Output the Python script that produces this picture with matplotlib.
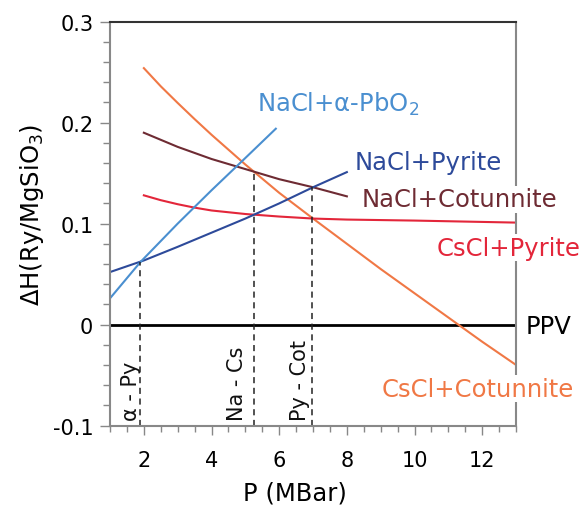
import matplotlib
matplotlib.use("Agg")
import matplotlib.pyplot as plt
from matplotlib.ticker import MultipleLocator

# enthalpy relative to PPV
p_cscl_cot = [2, 2.5, 3, 3.5, 4, 5, 6, 7, 8, 9, 10, 11, 12, 13]
h_cscl_cot = [0.254, 0.236, 0.2195, 0.2035, 0.188, 0.1585, 0.1305, 0.105, 0.080, 0.055, 0.031, 0.007, -0.017, -0.040]

p_nacl_cot = [2, 3, 4, 5, 6, 7, 8]
h_nacl_cot = [0.190, 0.176, 0.164, 0.154, 0.144, 0.136, 0.127]

p_cscl_py = [2, 2.5, 3, 3.5, 4, 5, 6, 7, 8, 10, 13]
h_cscl_py = [0.128, 0.1232, 0.1192, 0.1158, 0.113, 0.1095, 0.107, 0.105, 0.104, 0.103, 0.101]

p_nacl_py = [1, 2, 3, 4, 5, 6, 7, 8]
h_nacl_py = [0.052, 0.0635, 0.077, 0.091, 0.105, 0.120, 0.136, 0.151]

p_nacl_pbo2 = [1, 1.9, 3, 4, 5, 5.9]
h_nacl_pbo2 = [0.026, 0.062, 0.100, 0.133, 0.165, 0.194]

# transition pressures and the enthalpy where each dashed line stops
trans_p = [1.88, 5.26, 6.98]
trans_h = [0.062, 0.150, 0.136]
trans_labels = ["α - Py", "Na - Cs", "Py - Cot"]
trans_label_x = [1.79, 4.94, 6.80]

c_orange = "#F07845"
c_brown = "#6E2B33"
c_red = "#E3263A"
c_dblue = "#2D4A9A"
c_lblue = "#4A8FD0"

fig = plt.figure(figsize=(5.84, 5.10), dpi=100)
ax = fig.add_axes([0.1884, 0.1637, 0.6952, 0.7918])

ax.axhline(0, color="black", lw=2, zorder=2)
ax.plot(p_cscl_cot, h_cscl_cot, color=c_orange, lw=1.5)
ax.plot(p_nacl_cot, h_nacl_cot, color=c_brown, lw=1.5)
ax.plot(p_cscl_py, h_cscl_py, color=c_red, lw=1.5)
ax.plot(p_nacl_py, h_nacl_py, color=c_dblue, lw=1.5)
ax.plot(p_nacl_pbo2, h_nacl_pbo2, color=c_lblue, lw=1.5)

for p, h in zip(trans_p, trans_h):
    ax.plot([p, p], [-0.1, h], color="#222222", lw=1.1, ls=(0, (4, 3)))
for x, s in zip(trans_label_x, trans_labels):
    ax.text(x, -0.095, s, rotation=90, rotation_mode="anchor",
            ha="left", va="baseline", fontsize=15, color="#111111")

fs = 17.5
box = dict(facecolor="white", edgecolor="none", pad=1)
ax.text(5.34, 0.2117, "NaCl+α-PbO$_2$", color=c_lblue, fontsize=fs, va="baseline")
ax.text(8.24, 0.154, "NaCl+Pyrite", color=c_dblue, fontsize=fs, va="baseline")
ax.text(8.44, 0.1173, "NaCl+Cotunnite", color=c_brown, fontsize=fs, va="baseline",
        bbox=box, clip_on=False, zorder=5)
ax.text(10.66, 0.069, "CsCl+Pyrite", color=c_red, fontsize=fs, va="baseline",
        bbox=box, clip_on=False, zorder=5)
ax.text(13.27, -0.0087, "PPV", color="black", fontsize=fs, va="baseline", clip_on=False)
ax.text(9.03, -0.0705, "CsCl+Cotunnite", color=c_orange, fontsize=fs, va="baseline",
        bbox=box, clip_on=False, zorder=5)

ax.set_xlim(1, 13)
ax.set_ylim(-0.1, 0.3)
ax.set_xticks([2, 4, 6, 8, 10, 12])
ax.set_yticks([-0.1, 0, 0.1, 0.2, 0.3])
ax.set_yticklabels(["-0.1", "0", "0.1", "0.2", "0.3"])
ax.xaxis.set_minor_locator(MultipleLocator(0.5))
ax.yaxis.set_minor_locator(MultipleLocator(0.02))
ax.tick_params(axis="y", which="major", length=7, width=1, color="#888888",
               labelsize=15, pad=5)
ax.tick_params(axis="y", which="minor", length=5, width=1, color="#888888")
ax.tick_params(axis="x", which="major", length=6.5, width=1, color="#888888",
               labelsize=15, pad=11)
ax.tick_params(axis="x", which="minor", length=4, width=1, color="#888888")

for side in ["left", "bottom", "right"]:
    ax.spines[side].set_color("#888888")
    ax.spines[side].set_linewidth(1.5)
ax.spines["top"].set_color("#333333")
ax.spines["top"].set_linewidth(1.5)

ax.set_xlabel("P (MBar)", fontsize=17.5)
ax.xaxis.set_label_coords(0.456, -0.165)
ax.xaxis.label.set_va("center")
ax.set_ylabel("ΔH(Ry/MgSiO$_3$)", fontsize=17.5)
ax.yaxis.set_label_coords(-0.193, 0.524)
ax.yaxis.label.set_va("center")

fig.savefig("out.png", dpi=100)
